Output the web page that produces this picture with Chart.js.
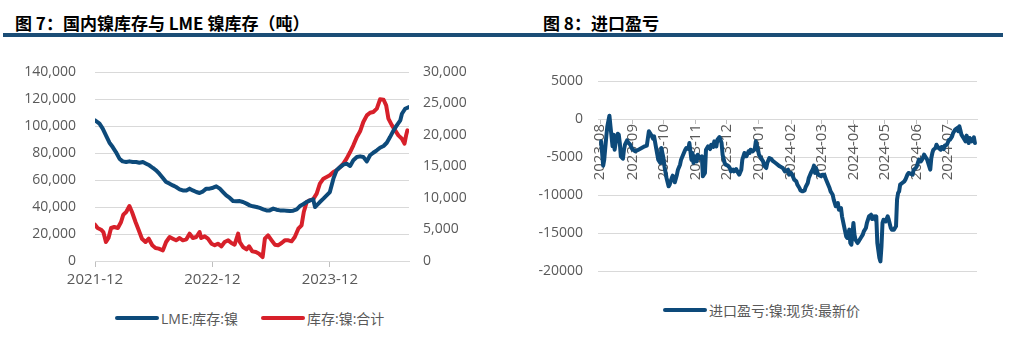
<!DOCTYPE html>
<html lang="zh-CN">
<head>
<meta charset="utf-8">
<title>镍库存与进口盈亏</title>
<script src="https://cdn.jsdelivr.net/npm/chart.js@4.4.1/dist/chart.umd.min.js"></script>
<style>
  html, body { margin: 0; padding: 0; background: #fff; }
  body {
    width: 1024px; height: 349px; position: relative; overflow: hidden;
    font-family: "Open Sans", "Noto Sans CJK SC", sans-serif; color: #595959;
  }
  .title {
    position: absolute; top: 10px; line-height: 20px;
    font: bold 17px "Noto Sans CJK SC", sans-serif; color: #000; white-space: nowrap;
  }
  .rule { position: absolute; top: 33px; left: 3px; width: 1000px; height: 4px; background: #1b4d76; }
  canvas { position: absolute; top: 0; }
  .legend-item {
    position: absolute; display: flex; align-items: center; height: 20px;
    font-size: 14px; white-space: nowrap; color: #595959;
  }
  .legend-item .sw { display: inline-block; width: 44px; height: 4px; border-radius: 2px; margin-right: 2px; }
</style>
</head>
<body>
<div class="title" style="left:15px">图 7：国内镍库存与 LME 镍库存（吨）</div>
<div class="title" style="left:543px">图 8：进口盈亏</div>
<div class="rule"></div>
<canvas id="stockChart" width="512" height="300" style="left:0"></canvas>
<canvas id="importChart" width="512" height="300" style="left:512px"></canvas>

<script>
// 图7 LME镍库存 (吨, 左轴)
const lmeDates = ['2021-12-01','2021-12-15','2021-12-25','2022-01-04','2022-01-15','2022-01-25','2022-02-04','2022-02-15','2022-02-25',
  '2022-03-08','2022-03-18','2022-03-28','2022-04-08','2022-04-18','2022-04-29','2022-05-09','2022-05-19','2022-05-30',
  '2022-06-09','2022-06-19','2022-06-30','2022-07-10','2022-07-21','2022-07-31','2022-08-10','2022-08-21','2022-08-31',
  '2022-09-11','2022-09-21','2022-10-01','2022-10-12','2022-10-22','2022-11-02','2022-11-12','2022-11-22','2022-12-03',
  '2022-12-13','2022-12-24','2023-01-03','2023-01-13','2023-01-24','2023-02-03','2023-02-13','2023-02-24','2023-03-06',
  '2023-03-17','2023-03-27','2023-04-06','2023-04-17','2023-04-27','2023-05-08','2023-05-18','2023-05-28','2023-06-08',
  '2023-06-18','2023-06-29','2023-07-09','2023-07-19','2023-07-30','2023-08-09','2023-08-20','2023-08-30','2023-09-09',
  '2023-09-20','2023-09-30','2023-10-10','2023-10-16','2023-10-21','2023-10-31','2023-11-11','2023-11-21','2023-12-01',
  '2023-12-12','2023-12-22','2024-01-02','2024-01-12','2024-01-22','2024-02-02','2024-02-12','2024-02-23','2024-03-04',
  '2024-03-14','2024-03-25','2024-04-04','2024-04-14','2024-04-25','2024-05-05','2024-05-16','2024-05-26','2024-06-05',
  '2024-06-16','2024-06-26','2024-07-07','2024-07-12','2024-07-22','2024-08-03'];
const lmeStock = [104200,101700,98000,93000,87600,84400,80700,75800,73800,
  73300,73800,73300,73300,72800,73300,72100,70900,68900,
  67200,64700,61500,58500,57300,56000,54800,53100,52300,
  52300,53600,52300,51100,50400,51600,53600,53600,54300,
  55300,53600,51100,48600,46700,44400,44200,44400,43700,
  42500,41200,40500,40000,39300,38300,37500,37500,38800,
  38000,37500,37500,37300,37000,37300,38300,40700,42000,
  43700,44900,45700,40000,41200,43700,46200,48600,51100,
  61000,67200,69600,71400,72100,70400,74600,77000,77500,
  77000,73800,78300,80200,82000,83900,85200,87600,91800,
  96800,100500,104200,109100,112800,114100];

// 图7 国内镍库存合计 (吨, 右轴)
const domDates = ['2021-12-01','2021-12-09','2021-12-20','2021-12-27','2022-01-04','2022-01-12','2022-01-20','2022-01-30',
  '2022-02-10','2022-02-20','2022-02-27','2022-03-08','2022-03-18','2022-03-26','2022-04-06','2022-04-16','2022-04-26',
  '2022-05-07','2022-05-17','2022-05-28','2022-06-07','2022-06-17','2022-06-30','2022-07-10','2022-07-21','2022-07-31',
  '2022-08-10','2022-08-21','2022-08-31','2022-09-11','2022-09-21','2022-10-01','2022-10-12','2022-10-22','2022-10-27',
  '2022-11-07','2022-11-17','2022-11-28','2022-12-08','2022-12-18','2022-12-29','2023-01-08','2023-01-19','2023-01-29',
  '2023-02-08','2023-02-19','2023-02-24','2023-03-06','2023-03-17','2023-03-25','2023-04-04','2023-04-15','2023-04-25',
  '2023-05-06','2023-05-13','2023-05-23','2023-06-03','2023-06-13','2023-06-23','2023-07-04','2023-07-14','2023-07-25',
  '2023-08-04','2023-08-14','2023-08-25','2023-09-04','2023-09-11','2023-09-20','2023-09-30','2023-10-10','2023-10-21',
  '2023-10-31','2023-11-11','2023-11-21','2023-12-01','2023-12-12','2023-12-22','2024-01-02','2024-01-12','2024-01-22',
  '2024-02-02','2024-02-12','2024-02-23','2024-03-04','2024-03-14','2024-03-25','2024-04-04','2024-04-14','2024-04-25',
  '2024-05-05','2024-05-16','2024-05-24','2024-05-31','2024-06-11','2024-06-21','2024-07-01','2024-07-12','2024-07-20',
  '2024-07-25','2024-07-29'];
const domStock = [5770,5240,4970,4600,3020,3650,5240,5400,
  5240,6190,7350,7780,8730,7780,6190,4870,3540,
  3020,3540,2490,2060,1960,1690,3020,3810,3540,
  3280,3650,3280,3440,4340,3650,3810,4600,3650,
  3910,3540,2750,2490,2750,2330,3020,3280,2860,
  2590,4340,3020,2220,1850,2330,1530,1430,1160,
  630,3540,4070,3280,2590,2490,2860,3280,3280,
  3120,3810,5130,5660,7780,9360,9630,9790,10690,
  12270,13070,13330,13600,14120,14390,14920,15450,16240,
  17300,18360,19680,20580,22060,23120,23540,23650,24180,
  25660,25600,24700,22590,21530,20740,19940,19410,18620,
  19940,20740];
const stockTickLabels = ['2021-12', '2022-12', '2023-12'];

// 图8 进口盈亏:镍:现货:最新价 (元/吨)
const importDates = ['2023-08-02','2023-08-04','2023-08-05','2023-08-07','2023-08-08','2023-08-10','2023-08-11','2023-08-13',
  '2023-08-14','2023-08-15','2023-08-16','2023-08-18','2023-08-19','2023-08-20','2023-08-21','2023-08-23','2023-08-24',
  '2023-08-25','2023-08-27','2023-08-28','2023-08-30','2023-09-01','2023-09-04','2023-09-07','2023-09-10','2023-09-13',
  '2023-09-15','2023-09-17','2023-09-19','2023-09-21','2023-09-22','2023-09-24','2023-09-26','2023-09-28','2023-09-29',
  '2023-10-01','2023-10-02','2023-10-04','2023-10-06','2023-10-07','2023-10-09','2023-10-10','2023-10-12','2023-10-14',
  '2023-10-15','2023-10-17','2023-10-18','2023-10-20','2023-10-22','2023-10-23','2023-10-25','2023-10-26','2023-10-27',
  '2023-10-28','2023-10-29','2023-10-30','2023-10-31','2023-11-02','2023-11-03','2023-11-05','2023-11-07','2023-11-08',
  '2023-11-10','2023-11-11','2023-11-13','2023-11-15','2023-11-16','2023-11-18','2023-11-19','2023-11-21','2023-11-22',
  '2023-11-24','2023-11-26','2023-11-27','2023-11-29','2023-11-30','2023-12-02','2023-12-04','2023-12-05','2023-12-07',
  '2023-12-08','2023-12-10','2023-12-12','2023-12-13','2023-12-15','2023-12-16','2023-12-18','2023-12-19','2023-12-20',
  '2023-12-22','2023-12-23','2023-12-24','2023-12-26','2023-12-28','2023-12-29','2023-12-31','2024-01-01','2024-01-03',
  '2024-01-05','2024-01-06','2024-01-08','2024-01-09','2024-01-11','2024-01-13','2024-01-14','2024-01-17','2024-01-21',
  '2024-01-24','2024-01-26','2024-01-29','2024-01-30','2024-02-01','2024-02-02','2024-02-04','2024-02-06','2024-02-07',
  '2024-02-09','2024-02-10','2024-02-12','2024-02-14','2024-02-15','2024-02-17','2024-02-18','2024-02-20','2024-02-22',
  '2024-02-23','2024-02-24','2024-02-25','2024-02-27','2024-03-01','2024-03-02','2024-03-04','2024-03-05','2024-03-07',
  '2024-03-09','2024-03-10','2024-03-12','2024-03-13','2024-03-15','2024-03-17','2024-03-18','2024-03-20','2024-03-21',
  '2024-03-23','2024-03-25','2024-03-26','2024-03-28','2024-03-29','2024-03-30','2024-04-01','2024-04-02','2024-04-03',
  '2024-04-05','2024-04-06','2024-04-08','2024-04-10','2024-04-11','2024-04-13','2024-04-14','2024-04-16','2024-04-18',
  '2024-04-19','2024-04-21','2024-04-22','2024-04-23','2024-04-24','2024-04-26','2024-04-27','2024-04-28','2024-04-29',
  '2024-04-30','2024-05-02','2024-05-04','2024-05-05','2024-05-07','2024-05-08','2024-05-10','2024-05-12','2024-05-13',
  '2024-05-14','2024-05-15','2024-05-16','2024-05-18','2024-05-20','2024-05-21','2024-05-23','2024-05-24','2024-05-28',
  '2024-05-29','2024-05-31','2024-06-01','2024-06-03','2024-06-05','2024-06-06','2024-06-08','2024-06-09','2024-06-11',
  '2024-06-13','2024-06-14','2024-06-15','2024-06-16','2024-06-17','2024-06-19','2024-06-20','2024-06-22','2024-06-24',
  '2024-06-25','2024-06-27','2024-06-28','2024-06-30','2024-07-02','2024-07-03','2024-07-05','2024-07-06','2024-07-08',
  '2024-07-10','2024-07-11','2024-07-12','2024-07-13','2024-07-14','2024-07-16','2024-07-18','2024-07-19','2024-07-21',
  '2024-07-22','2024-07-24','2024-07-26','2024-07-27'];
const importProfit = [-2940,-6140,-5350,-2280,-960,440,-960,-3600,
  -2060,-4040,-3160,-1930,-2060,-3160,-4910,-5220,-4040,
  -3380,-2810,-3070,-3380,-3950,-4250,-4040,-3820,-3600,
  -3510,-1620,-2060,-2590,-2280,-3820,-5350,-5790,-3820,
  -5130,-6230,-7760,-8860,-8640,-7760,-7460,-8330,-7320,
  -6670,-6010,-5350,-4690,-4040,-3820,-3950,-3160,-4250,
  -5350,-4470,-5790,-4910,-5570,-4690,-5130,-4910,-7540,
  -7100,-4040,-3600,-3950,-3380,-3680,-2940,-3600,-2720,
  -2370,-3160,-4690,-5790,-6010,-6140,-6450,-6890,-6670,
  -6890,-6580,-7100,-7320,-6670,-5350,-4470,-4910,-4910,
  -4250,-4470,-4040,-4250,-3950,-2940,-4040,-4690,-5130,
  -5570,-6140,-6450,-5790,-5130,-5260,-5480,-5790,-6230,
  -6450,-6890,-6670,-7320,-7100,-7320,-7980,-8200,-8640,
  -9080,-9390,-9520,-9390,-8950,-8420,-7760,-7100,-6580,
  -6140,-7100,-6450,-7320,-7540,-7320,-7320,-7760,-8420,
  -9080,-9520,-9960,-10610,-11490,-11050,-11930,-11710,-12810,
  -14120,-15440,-15660,-14560,-16320,-16540,-13680,-15220,-15880,
  -16320,-16100,-15660,-15220,-14780,-14340,-13680,-12810,-12590,
  -13160,-12810,-13250,-12810,-16320,-18290,-18730,-16750,-13680,
  -13250,-13470,-12810,-13250,-14340,-14560,-14560,-14120,-10610,
  -9740,-9520,-8640,-8420,-8200,-7980,-7320,-7100,-7320,
  -6670,-6450,-6230,-5350,-5570,-5350,-4690,-4910,-5350,
  -6230,-6670,-5130,-4470,-4040,-3820,-3380,-3820,-4040,
  -3680,-3950,-3510,-3380,-2720,-2720,-2280,-1840,-1400,
  -1180,-1620,-960,-1490,-2060,-2500,-2940,-2190,-3160,
  -2500,-2940,-2410,-3160];
const importTickLabels = ['2023-08','2023-09','2023-10','2023-11','2023-12','2024-01',
  '2024-02','2024-03','2024-04','2024-05','2024-06','2024-07'];

const BLUE = '#0d4a7a';
const RED = '#d7202a';
const TEXT = '#595959';
const GRID = '#d9d9d9';
const FONT = { family: '"Open Sans", "Noto Sans CJK SC", sans-serif', size: 14 };
const XFONT = { family: '"Open Sans", "Noto Sans CJK SC", sans-serif', size: 15 };

function toPoints(dates, values) {
  return dates.map((d, i) => ({ x: Date.parse(d), y: values[i] }));
}

function monthLabel(v) {
  const d = new Date(v);
  return d.getUTCFullYear() + '-' + String(d.getUTCMonth() + 1).padStart(2, '0');
}

function addLegend(chart, items) {
  chart.data.datasets.forEach((ds, i) => {
    const el = document.createElement('div');
    el.className = 'legend-item';
    el.style.left = items[i].left + 'px';
    el.style.top = items[i].top + 'px';
    const sw = document.createElement('span');
    sw.className = 'sw';
    sw.style.background = ds.borderColor;
    el.appendChild(sw);
    el.appendChild(document.createTextNode(ds.label));
    document.body.appendChild(el);
  });
}

document.addEventListener('DOMContentLoaded', function () {
  const lineStyle = {
    borderWidth: 4, pointRadius: 0, tension: 0,
    borderJoinStyle: 'round', borderCapStyle: 'round'
  };

  const stockChart = new Chart(document.getElementById('stockChart'), {
    type: 'line',
    data: {
      datasets: [
        Object.assign({ label: 'LME:库存:镍', data: toPoints(lmeDates, lmeStock),
          borderColor: BLUE, backgroundColor: BLUE, yAxisID: 'y' }, lineStyle),
        Object.assign({ label: '库存:镍:合计', data: toPoints(domDates, domStock),
          borderColor: RED, backgroundColor: RED, yAxisID: 'y1' }, lineStyle)
      ]
    },
    options: {
      responsive: false,
      animation: false,
      layout: { padding: { top: 72, left: 0, right: 0, bottom: 0 } },
      plugins: { legend: { display: false }, tooltip: { enabled: false } },
      scales: {
        x: {
          type: 'linear',
          min: Date.parse('2021-12-01'),
          max: Date.parse('2024-08-03'),
          afterBuildTicks: (scale) => {
            scale.ticks = stockTickLabels.map(l => ({ value: Date.parse(l + '-01') }));
          },
          afterFit: (scale) => { scale.height = 39; },
          ticks: { callback: monthLabel, autoSkip: false, maxRotation: 0, padding: 4, color: TEXT, font: XFONT },
          grid: { drawOnChartArea: false, drawTicks: true, tickLength: 6, color: '#bfbfbf' },
          border: { color: GRID }
        },
        y: {
          position: 'left',
          min: 0, max: 140000,
          afterFit: (scale) => { scale.width = 95; },
          ticks: { stepSize: 20000, padding: 19, color: TEXT, font: FONT,
            callback: v => v.toLocaleString('en-US') },
          grid: { color: GRID, drawTicks: false },
          border: { display: false }
        },
        y1: {
          position: 'right',
          min: 0, max: 30000,
          afterFit: (scale) => { scale.width = 103; },
          ticks: { stepSize: 5000, padding: 14, color: TEXT, font: FONT,
            callback: v => v.toLocaleString('en-US') },
          grid: { drawOnChartArea: false, drawTicks: false },
          border: { display: false }
        }
      }
    }
  });

  const importChart = new Chart(document.getElementById('importChart'), {
    type: 'line',
    data: {
      datasets: [
        Object.assign({ label: '进口盈亏:镍:现货:最新价', data: toPoints(importDates, importProfit),
          borderColor: BLUE, backgroundColor: BLUE }, lineStyle)
      ]
    },
    options: {
      responsive: false,
      animation: false,
      layout: { padding: { top: 81, left: 0, right: 47, bottom: 29 } },
      plugins: { legend: { display: false }, tooltip: { enabled: false } },
      scales: {
        x: {
          type: 'linear',
          position: { y: 0 },
          min: Date.parse('2023-07-30'),
          max: Date.parse('2024-07-29'),
          afterBuildTicks: (scale) => {
            scale.ticks = importTickLabels.map(l => ({ value: Date.parse(l + '-01') }));
          },
          afterFit: (scale) => { scale.height = 0; },
          ticks: { callback: monthLabel, autoSkip: false, minRotation: 90, maxRotation: 90,
            padding: 1, color: TEXT, font: XFONT },
          grid: { drawOnChartArea: false, drawTicks: true, tickLength: 4, color: '#bfbfbf' },
          border: { color: GRID }
        },
        y: {
          min: -20000, max: 5000,
          afterFit: (scale) => { scale.width = 86; },
          ticks: { stepSize: 5000, padding: 15, color: TEXT, font: FONT, callback: v => String(v) },
          grid: { color: GRID, drawTicks: false },
          border: { display: false }
        }
      }
    }
  });

  addLegend(stockChart, [{ left: 115, top: 308 }, { left: 261, top: 308 }]);
  addLegend(importChart, [{ left: 663, top: 300 }]);
});
</script>
</body>
</html>
